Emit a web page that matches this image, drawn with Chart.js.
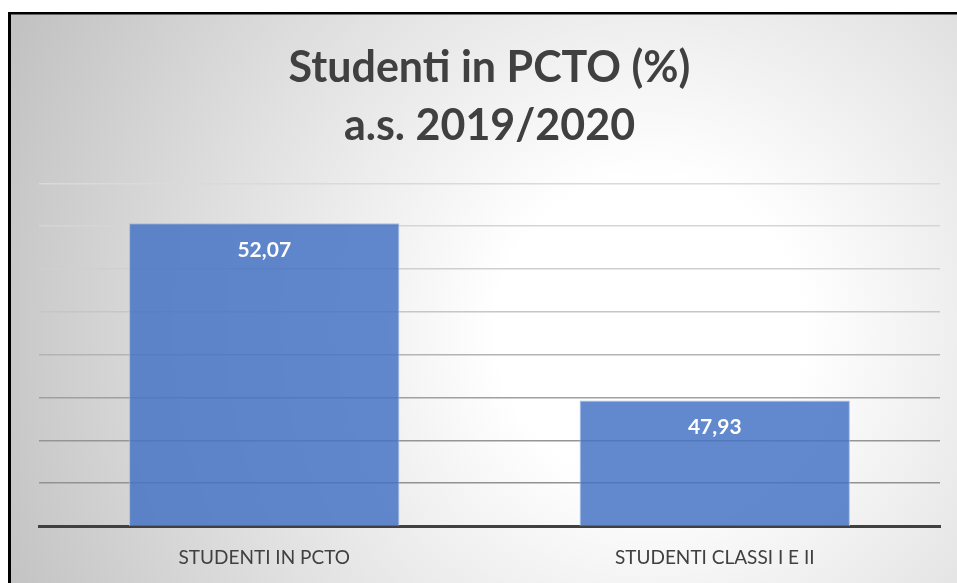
<!DOCTYPE html>
<html>
<head>
<meta charset="utf-8">
<script src="https://cdn.jsdelivr.net/npm/chart.js@4"></script>
<style>
html,body{margin:0;padding:0;background:#fff;}
#wrap{width:957px;height:583px;position:relative;}
</style>
</head>
<body>
<div id="wrap"><canvas id="c" width="957" height="583"></canvas></div>
<script>
const categories = ["STUDENTI IN PCTO", "STUDENTI CLASSI I E II"];
const values = [52.07, 47.93];
const valueLabels = ["52,07", "47,93"];
const titleLines = ["Studenti in PCTO (%)", "a.s. 2019/2020"];
const yMin = 45, yMax = 53, yStep = 1;

const gridColors = {53:'#dadada',52:'#d5d5d5',51:'#cfcfcf',50:'#c6c6c6',49:'#b4b4b4',48:'#a0a0a0',47:'#959595',46:'#929292',45:'rgba(0,0,0,0)'};

const bgPlugin = {
  id: 'bg',
  beforeDraw(chart) {
    const ctx = chart.ctx;
    const w = chart.width, h = chart.height;
    ctx.save();
    ctx.fillStyle = '#ffffff';
    ctx.fillRect(0, 0, w, h);
    const g = ctx.createRadialGradient(650, 330, 0, 650, 330, 700);
    g.addColorStop(0, '#ffffff');
    g.addColorStop(0.22, '#ffffff');
    g.addColorStop(0.6, '#e2e2e2');
    g.addColorStop(1, '#c2c2c2');
    ctx.fillStyle = g;
    ctx.fillRect(8, 12, w - 8, h - 12);
    ctx.fillStyle = '#000000';
    ctx.fillRect(8, 12, 3, h - 12);
    ctx.fillRect(8, 12, w - 8, 2.5);
    ctx.restore();
  }
};

const labelPlugin = {
  id: 'valLabels',
  afterDatasetsDraw(chart) {
    const ctx = chart.ctx;
    const meta = chart.getDatasetMeta(0);
    ctx.save();
    ctx.fillStyle = '#ffffff';
    ctx.font = 'bold 21px Lato';
    ctx.textAlign = 'center';
    ctx.textBaseline = 'middle';
    meta.data.forEach((bar, i) => {
      ctx.fillText(valueLabels[i], bar.x, bar.y + 27);
    });
    ctx.restore();
  }
};

new Chart(document.getElementById('c'), {
  type: 'bar',
  data: {
    labels: categories,
    datasets: [{
      data: values,
      backgroundColor: 'rgba(68,114,196,0.84)',
      borderColor: 'rgba(160,185,230,0.9)',
      borderWidth: 1,
      borderSkipped: 'bottom',
      barPercentage: 0.6,
      categoryPercentage: 1.0
    }]
  },
  options: {
    responsive: false,
    animation: false,
    layout: { padding: { left: 39, right: 17, top: 0, bottom: 0 } },
    plugins: {
      legend: { display: false },
      tooltip: { enabled: false },
      title: {
        display: true,
        text: titleLines,
        color: '#404040',
        font: { family: 'Lato', size: 43, weight: 'bold', lineHeight: 1.33 },
        padding: { top: 40, bottom: 29 }
      }
    },
    scales: {
      x: {
        afterFit(s) { s.height = 57; },
        grid: { display: false, drawTicks: false },
        border: { display: true, color: '#404040', width: 3 },
        ticks: { color: '#404040', font: { family: 'Lato', size: 19 }, padding: 20 }
      },
      y: {
        min: yMin, max: yMax,
        afterFit(s) { s.width = 0; },
        ticks: { display: false, stepSize: yStep },
        border: { display: false },
        grid: {
          drawTicks: false,
          lineWidth: 1.6,
          color: (c) => gridColors[c.tick ? Math.round(c.tick.value) : 45] || '#cccccc'
        }
      }
    }
  },
  plugins: [bgPlugin, labelPlugin]
});
</script>
</body>
</html>
